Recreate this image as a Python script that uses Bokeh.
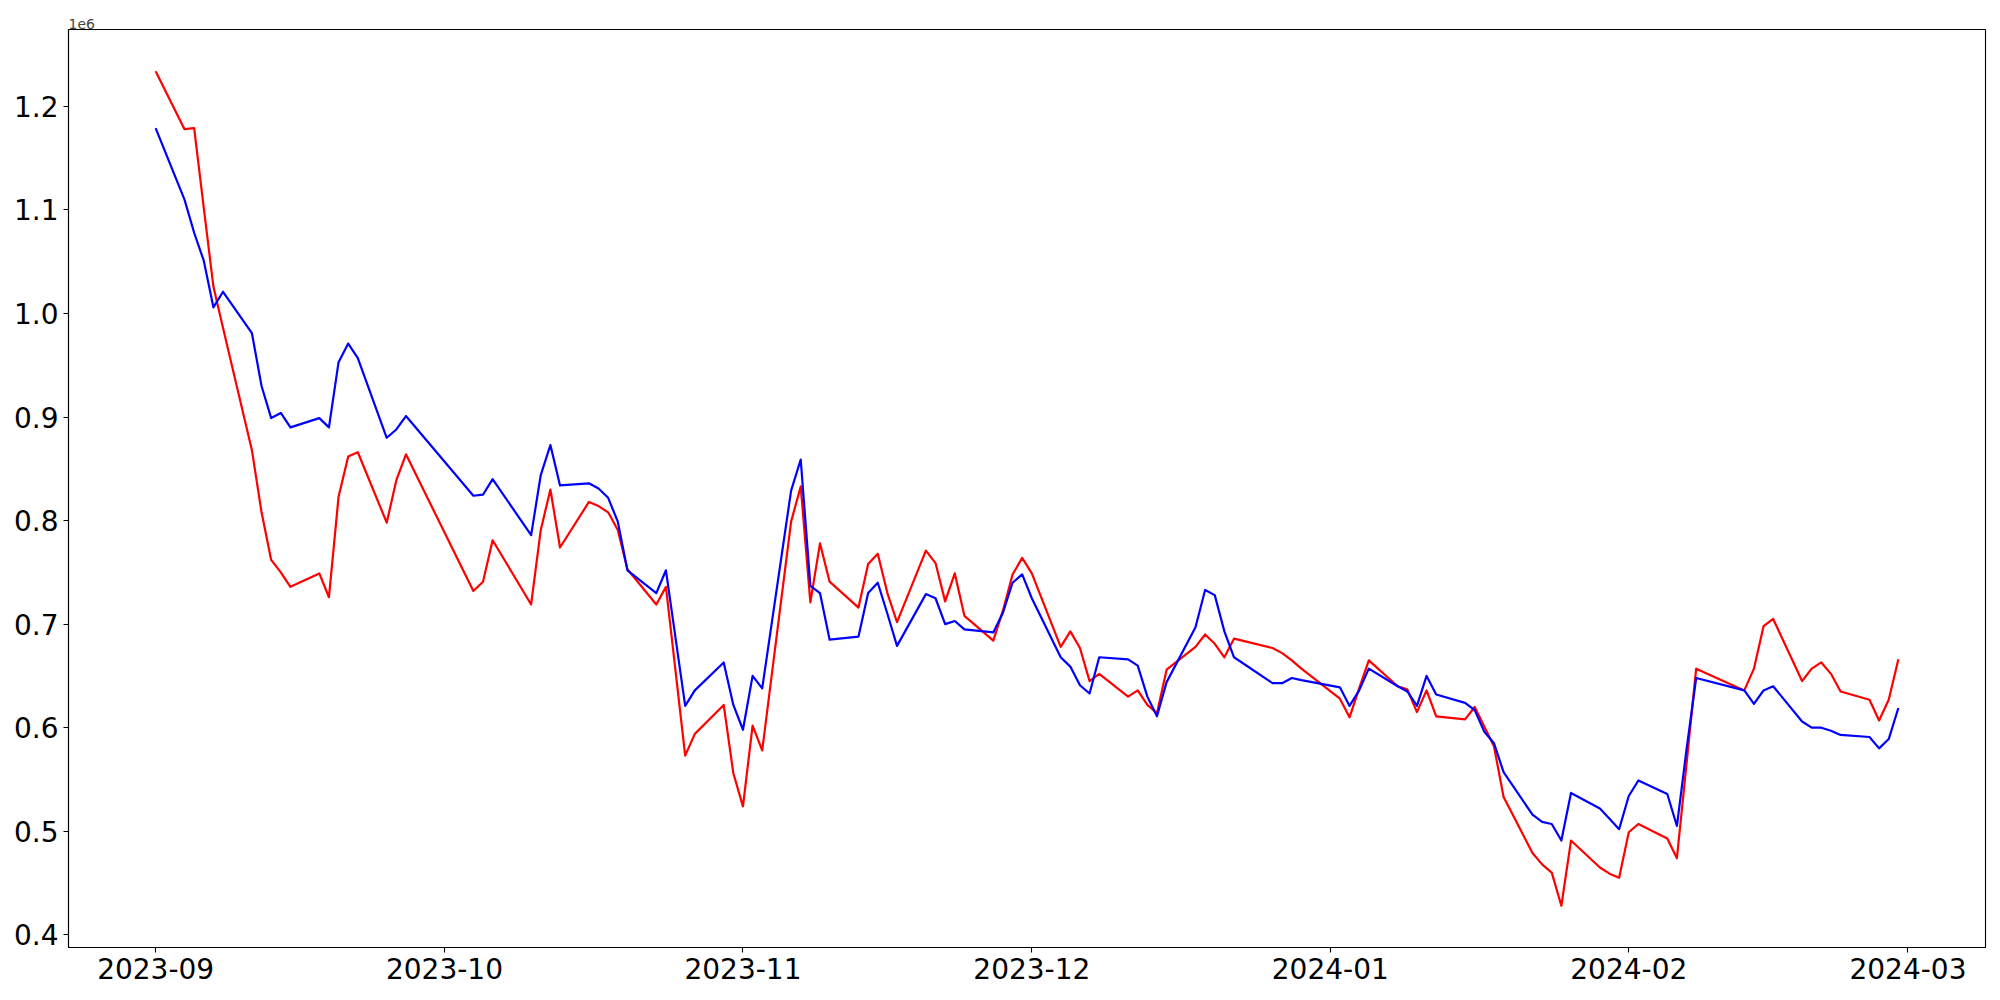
import pandas as pd
from bokeh.plotting import figure
from bokeh.models import (Range1d, FixedTicker, DatetimeTickFormatter,
                          CustomJSTickFormatter, SingleIntervalTicker)
from bokeh.embed import file_html
from bokeh.resources import INLINE

# ---------------- data ----------------
dates = [
    "2023-09-01", "2023-09-04", "2023-09-05", "2023-09-06", "2023-09-07", "2023-09-08",
    "2023-09-11", "2023-09-12", "2023-09-13", "2023-09-14", "2023-09-15",
    "2023-09-18", "2023-09-19", "2023-09-20", "2023-09-21", "2023-09-22",
    "2023-09-25", "2023-09-26", "2023-09-27",
    "2023-10-04", "2023-10-05", "2023-10-06",
    "2023-10-10", "2023-10-11", "2023-10-12", "2023-10-13",
    "2023-10-16", "2023-10-17", "2023-10-18", "2023-10-19", "2023-10-20",
    "2023-10-23", "2023-10-24", "2023-10-26", "2023-10-27",
    "2023-10-30", "2023-10-31", "2023-11-01", "2023-11-02", "2023-11-03",
    "2023-11-06", "2023-11-07", "2023-11-08", "2023-11-09", "2023-11-10",
    "2023-11-13", "2023-11-14", "2023-11-15", "2023-11-16", "2023-11-17",
    "2023-11-20", "2023-11-21", "2023-11-22", "2023-11-23", "2023-11-24",
    "2023-11-27", "2023-11-28", "2023-11-29", "2023-11-30", "2023-12-01",
    "2023-12-04", "2023-12-05", "2023-12-06", "2023-12-07", "2023-12-08",
    "2023-12-11", "2023-12-12", "2023-12-13", "2023-12-14", "2023-12-15",
    "2023-12-18", "2023-12-19", "2023-12-20", "2023-12-21", "2023-12-22",
    "2023-12-26", "2023-12-27", "2023-12-28", "2023-12-29",
    "2024-01-02", "2024-01-03", "2024-01-04", "2024-01-05",
    "2024-01-08", "2024-01-09", "2024-01-10", "2024-01-11", "2024-01-12",
    "2024-01-15", "2024-01-16", "2024-01-17", "2024-01-18", "2024-01-19",
    "2024-01-22", "2024-01-23", "2024-01-24", "2024-01-25", "2024-01-26",
    "2024-01-29", "2024-01-30", "2024-01-31", "2024-02-01", "2024-02-02",
    "2024-02-05", "2024-02-06", "2024-02-07", "2024-02-08",
    "2024-02-13", "2024-02-14", "2024-02-15", "2024-02-16",
    "2024-02-19", "2024-02-20", "2024-02-21", "2024-02-22", "2024-02-23",
    "2024-02-26", "2024-02-27", "2024-02-28", "2024-02-29",
]

red_values = [
    1234000, 1178000, 1179000, 1102000, 1026000, 986000,
    868000, 808000, 762000, 750000, 736000,
    749000, 726000, 823000, 862000, 866000,
    798000, 839000, 864000,
    732000, 741000, 781000,
    719000, 791000, 830000, 774000,
    818000, 814000, 808000, 791000, 753000,
    719000, 736000, 573000, 594000,
    622000, 556000, 524000, 602000, 578000,
    799000, 833000, 721000, 778000, 741000,
    716000, 758000, 768000, 730000, 702000,
    771000, 759000, 722000, 749000, 708000,
    684000, 713000, 748000, 764000, 749000,
    678000, 693000, 677000, 645000, 652000,
    630000, 636000, 622000, 614000, 656000,
    678000, 690000, 681000, 668000, 686000,
    677000, 672000, 665000, 657000,
    628000, 610000, 638000, 665000,
    640000, 637000, 615000, 636000, 611000,
    608000, 620000, 601000, 582000, 533000,
    479000, 468000, 460000, 428000, 491000,
    465000, 459000, 455000, 499000, 507000,
    493000, 474000, 565000, 657000,
    636000, 657000, 698000, 705000,
    645000, 657000, 663000, 652000, 635000,
    627000, 607000, 627000, 666000,
]

blue_values = [
    1179000, 1110000, 1078000, 1051000, 1006000, 1021000,
    981000, 930000, 899000, 904000, 890000,
    899000, 890000, 953000, 971000, 957000,
    880000, 888000, 901000,
    824000, 825000, 840000,
    786000, 844000, 873000, 834000,
    836000, 831000, 822000, 799000, 752000,
    730000, 752000, 621000, 636000,
    663000, 622000, 598000, 650000, 638000,
    829000, 859000, 737000, 730000, 685000,
    688000, 730000, 740000, 710000, 679000,
    729000, 725000, 700000, 703000, 695000,
    692000, 711000, 740000, 748000, 725000,
    668000, 659000, 641000, 633000, 668000,
    666000, 660000, 630000, 611000, 644000,
    697000, 733000, 728000, 693000, 668000,
    643000, 643000, 648000, 646000,
    639000, 621000, 636000, 657000,
    640000, 635000, 621000, 650000, 632000,
    624000, 617000, 596000, 585000, 557000,
    516000, 509000, 507000, 491000, 537000,
    522000, 512000, 502000, 534000, 549000,
    536000, 505000, 579000, 648000,
    636000, 623000, 636000, 640000,
    606000, 600000, 600000, 597000, 593000,
    591000, 580000, 589000, 619000,
]

month_ticks = ["2023-09-01", "2023-10-01", "2023-11-01", "2023-12-01",
               "2024-01-01", "2024-02-01", "2024-03-01"]

# ---------------- figure ----------------
x = pd.to_datetime(dates)
xmin, xmax = x.min(), x.max()
xpad = (xmax - xmin) * 0.05
all_vals = red_values + blue_values
ymin, ymax = min(all_vals), max(all_vals)
ypad = (ymax - ymin) * 0.05

FONT = "DejaVu Sans"

p = figure(width=1992, height=992, x_axis_type="datetime",
           output_backend="svg", toolbar_location=None,
           x_range=Range1d(xmin - xpad, xmax + xpad),
           y_range=Range1d(ymin - ypad, ymax + ypad),
           min_border_left=68, min_border_right=7,
           min_border_top=29, min_border_bottom=45,
           title="1e6")

p.title.text_font = FONT
p.title.text_font_size = "14px"
p.title.text_font_style = "normal"
p.title.align = "left"
p.title.standoff = 2
p.title.offset = 0

p.line(x, red_values, line_color="#ff0000", line_width=2.2, line_join="round")
p.line(x, blue_values, line_color="#0000ff", line_width=2.2, line_join="round")

p.grid.visible = False
p.outline_line_color = "black"
p.outline_line_width = 1.1
p.background_fill_color = "white"
p.border_fill_color = "white"

tick_ms = [pd.Timestamp(t).value // 10**6 for t in month_ticks]
p.xaxis.ticker = FixedTicker(ticks=tick_ms)
fmt = "%Y-%m"
p.xaxis.formatter = DatetimeTickFormatter(
    milliseconds=fmt, seconds=fmt, minsec=fmt, minutes=fmt, hourmin=fmt,
    hours=fmt, days=fmt, months=fmt, years=fmt)

p.yaxis.ticker = SingleIntervalTicker(interval=100000, num_minor_ticks=0)
p.yaxis.formatter = CustomJSTickFormatter(code="return (tick / 1e6).toFixed(1);")

for ax in (p.xaxis[0], p.yaxis[0]):
    ax.major_label_text_font = FONT
    ax.major_label_text_font_size = "28px"
    ax.major_label_text_color = "black"
    ax.major_tick_out = 5
    ax.major_tick_in = 0
    ax.minor_tick_out = 0
    ax.minor_tick_in = 0
    ax.major_tick_line_color = "black"
    ax.major_tick_line_width = 1.1
    ax.axis_line_color = "black"
    ax.axis_line_width = 1.1
    ax.major_label_standoff = 5

open("out.html", "w").write(file_html(p, INLINE))
